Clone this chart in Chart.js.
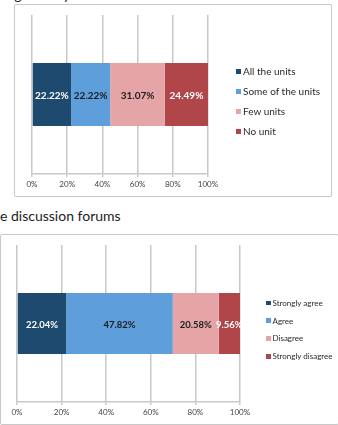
<!DOCTYPE html>
<html>
<head>
<meta charset="utf-8">
<script src="https://cdn.jsdelivr.net/npm/chart.js@4.4.1/dist/chart.umd.min.js"></script>
<style>
  html, body { margin: 0; padding: 0; background: #fff; }
  body { width: 338px; height: 425px; position: relative; overflow: hidden; font-family: Lato, sans-serif; }
  .legenda-topo { position: absolute; left: 3px; top: -14px; font-size: 14px; color: #222; white-space: nowrap; }
  .legenda-meio { position: absolute; left: 0px; top: 207px; font-size: 14px; color: #222; white-space: nowrap; }
  .caixa { position: absolute; border: 1px solid #c9c9c9; border-radius: 2px; box-shadow: 0 0 1px rgba(0,0,0,0.12); }
  canvas { position: absolute; left: 0; }
  .legenda { position: absolute; color: #2a2a2a; white-space: nowrap; }
  .item { display: flex; align-items: center; }
  .quadrado { flex: none; }
</style>
</head>
<body>
<div class="legenda-topo">ing activity</div>
<div class="caixa" style="left:14px; top:4px; width:316px; height:191px;"></div>
<div class="legenda-meio">e discussion forums</div>
<div class="caixa" style="left:0px; top:234px; width:337px; height:189px;"></div>

<canvas id="grafico1" width="338" height="212" style="top:0px"></canvas>
<canvas id="grafico2" width="338" height="213" style="top:212px"></canvas>
<div id="legenda1" class="legenda" style="left:236px; top:61px; font-size:10px;"></div>
<div id="legenda2" class="legenda" style="left:266px; top:294px; font-size:8px;"></div>

<script>
// Dados dos dois gráficos
const categoria = ['Resposta'];
const grupos1 = ['All the units', 'Some of the units', 'Few units', 'No unit'];
const valores1 = [22.22, 22.22, 31.07, 24.49];
const grupos2 = ['Strongly agree', 'Agree', 'Disagree', 'Strongly disagree'];
const valores2 = [22.04, 47.82, 20.58, 9.56];
const ticksX = [0, 20, 40, 60, 80, 100];

// Cores das barras e dos textos dentro delas
const cores = ['#1f4a6f', '#5e9fdb', '#e5a5a6', '#b0454a'];
const coresTexto = ['#ffffff', '#1b1b1b', '#1b1b1b', '#ffffff'];

// Plugin que escreve a porcentagem no meio de cada pedaço da barra
const rotulosBarra = {
    id: 'rotulosBarra',
    afterDatasetsDraw(chart, args, opts) {
        const ctx = chart.ctx;
        ctx.save();
        ctx.font = 'bold ' + opts.tamanho + 'px Lato, sans-serif';
        ctx.textAlign = 'center';
        ctx.textBaseline = 'middle';
        chart.data.datasets.forEach((ds, i) => {
            const meta = chart.getDatasetMeta(i);
            meta.data.forEach((barra, j) => {
                const p = barra.getProps(['x', 'y', 'base'], true);
                ctx.fillStyle = coresTexto[i];
                ctx.fillText(ds.data[j].toFixed(2) + '%', (p.x + p.base) / 2, p.y + 1);
            });
        });
        ctx.restore();
    }
};

function criarGrafico(id, grupos, valores, padding, espessura, tamanhoRotulo) {
    const ctx = document.getElementById(id).getContext('2d');
    return new Chart(ctx, {
        type: 'bar',
        data: {
            labels: categoria,
            datasets: grupos.map((g, i) => ({
                label: g,
                data: [valores[i]],
                backgroundColor: cores[i],
                borderWidth: 0,
                barPercentage: espessura,
                categoryPercentage: 1
            }))
        },
        options: {
            indexAxis: 'y',
            responsive: false,
            animation: false,
            layout: { padding: padding },
            plugins: {
                legend: { display: false },
                tooltip: { enabled: false },
                rotulosBarra: { tamanho: tamanhoRotulo }
            },
            scales: {
                x: {
                    stacked: true,
                    min: 0,
                    max: 100,
                    afterBuildTicks: (eixo) => { eixo.ticks = ticksX.map(v => ({ value: v })); },
                    afterFit: (eixo) => { eixo.height = 22; },
                    ticks: {
                        callback: (v) => v + '%',
                        color: '#444',
                        padding: 3,
                        maxRotation: 0,
                        font: { family: 'Lato', size: 8 }
                    },
                    grid: { color: '#c8c8c8', lineWidth: 1.5, tickLength: 3 },
                    border: { display: true, color: '#c8c8c8', width: 1.5 }
                },
                y: { stacked: true, display: false }
            }
        },
        plugins: [rotulosBarra]
    });
}

criarGrafico('grafico1', grupos1, valores1, { left: 32, right: 130, top: 15, bottom: 16 }, 0.396, 10);
criarGrafico('grafico2', grupos2, valores2, { left: 17, right: 98, top: 33, bottom: 1 }, 0.39, 9.5);

// Legendas em HTML, montadas a partir dos mesmos arrays
function montarLegenda(id, grupos, altura, lado, espaco) {
    const div = document.getElementById(id);
    grupos.forEach((g, i) => {
        const item = document.createElement('div');
        item.className = 'item';
        item.style.height = altura + 'px';
        const q = document.createElement('span');
        q.className = 'quadrado';
        q.style.width = lado + 'px';
        q.style.height = lado + 'px';
        q.style.background = cores[i];
        q.style.marginRight = espaco + 'px';
        const t = document.createElement('span');
        t.textContent = g;
        item.appendChild(q);
        item.appendChild(t);
        div.appendChild(item);
    });
}
montarLegenda('legenda1', grupos1, 20, 5, 2);
montarLegenda('legenda2', grupos2, 17.8, 4.5, 2);
</script>
</body>
</html>
